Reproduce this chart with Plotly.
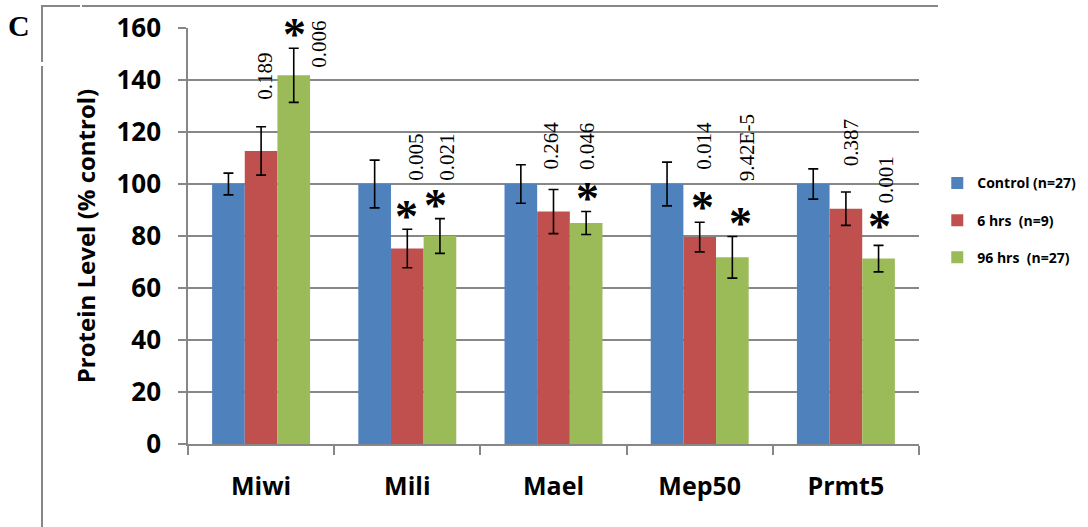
import plotly.graph_objects as go

categories = ["Miwi", "Mili", "Mael", "Mep50", "Prmt5"]
series_names = ["Control (n=27)", "6 hrs  (n=9)", "96 hrs  (n=27)"]
control_vals = [100, 100, 100, 100, 100]
control_err = [4.2, 9.2, 7.4, 8.4, 5.8]
h6_vals = [112.7, 75.2, 89.4, 79.6, 90.5]
h6_err = [9.3, 7.4, 8.5, 5.7, 6.4]
h96_vals = [141.8, 80.0, 85.0, 71.8, 71.3]
h96_err = [10.4, 6.7, 4.4, 8.0, 5.1]
colors = ["#4F81BD", "#C0504D", "#9BBB59"]

# p-value labels: (category, text, y bottom, x pixel shift)
p_labels = [
    ("Miwi", "0.189", 131.5, 3), ("Miwi", "0.006", 143.8, 58),
    ("Mili", "0.005", 100.4, 9), ("Mili", "0.021", 100.4, 40),
    ("Mael", "0.264", 104.6, -2), ("Mael", "0.046", 104.6, 33),
    ("Mep50", "0.014", 104.6, 4), ("Mep50", "9.42E-5", 100.4, 48),
    ("Prmt5", "0.387", 106.2, 5), ("Prmt5", "0.001", 91.9, 40),
]
# significance stars: (category, y centre, x pixel shift)
stars = [
    ("Miwi", 159.4, 33),
    ("Mili", 89.3, -1), ("Mili", 93.6, 28),
    ("Mael", 96.4, 34),
    ("Mep50", 92.8, 3), ("Mep50", 86.8, 41),
    ("Prmt5", 85.5, 34),
]

fig = go.Figure()
for i, (name, vals, errs) in enumerate(zip(series_names, [control_vals, h6_vals, h96_vals],
                                           [control_err, h6_err, h96_err])):
    fig.add_trace(go.Bar(
        x=categories, y=vals, name=name, marker_color=colors[i],
        marker_line_width=0, legendgroup=f"g{i}",
        error_y=dict(type="data", array=errs, color="black", thickness=1.6, width=5),
    ))

anns = []
for cat, txt, yv, xs in p_labels:
    anns.append(dict(x=cat, y=yv, xref="x", yref="y", text=txt, showarrow=False,
                     textangle=-90, xanchor="center", yanchor="bottom", xshift=xs,
                     font=dict(family="Liberation Serif", size=21, color="black")))
for cat, yv, xs in stars:
    anns.append(dict(x=cat, y=yv, xref="x", yref="y", text="*", showarrow=False,
                     xanchor="center", yanchor="middle", xshift=xs, yshift=-5,
                     font=dict(family="Liberation Serif", size=46, color="black", weight="bold")))
anns.append(dict(x=-0.231, y=1.005, xref="paper", yref="paper", text="C", showarrow=False,
                 xanchor="center", yanchor="middle",
                 font=dict(family="Liberation Serif", size=30, color="black", weight="bold")))

shapes = [
    dict(type="line", xref="paper", yref="paper", x0=-0.1997, x1=-0.1997, y0=-0.21, y1=0.9087,
         line=dict(color="#878787", width=2)),
    dict(type="line", xref="paper", yref="paper", x0=-0.1997, x1=-0.1997, y0=0.9183, y1=1.0553,
         line=dict(color="#878787", width=2)),
    dict(type="line", xref="paper", yref="paper", x0=-0.1997, x1=-0.1477, y0=1.0529, y1=1.0529,
         line=dict(color="#878787", width=2)),
    dict(type="line", xref="paper", yref="paper", x0=-0.145, x1=1.026, y0=1.0529, y1=1.0529,
         line=dict(color="#878787", width=2)),
]

fig.update_layout(
    width=1088, height=527,
    margin=dict(l=188, r=169, t=28, b=83, autoexpand=False),
    paper_bgcolor="white", plot_bgcolor="white",
    barmode="group", bargap=0.33, bargroupgap=0,
    font=dict(family="Open Sans", color="black"),
    annotations=anns, shapes=shapes,
    legend=dict(x=1.025, y=0.665, xanchor="left", yanchor="top",
                font=dict(family="Open Sans", size=14, color="black", weight="bold"),
                tracegroupgap=16, itemwidth=30, bgcolor="rgba(0,0,0,0)"),
    showlegend=True,
)
fig.update_yaxes(range=[0, 160], dtick=20, showgrid=True, gridcolor="#878787", gridwidth=1.5,
                 showline=True, linecolor="#878787", linewidth=1.5,
                 ticks="outside", ticklen=8, tickcolor="#878787", tickwidth=1.5,
                 ticklabelstandoff=12,
                 tickfont=dict(family="Open Sans", size=26, color="black", weight="bold"),
                 title=dict(text="Protein Level (% control)", standoff=14,
                            font=dict(family="Open Sans", size=24, color="black", weight="bold")),
                 zeroline=False)
fig.update_xaxes(showline=True, linecolor="#878787", linewidth=1.5,
                 ticks="outside", tickson="boundaries", ticklen=9, tickcolor="#878787", tickwidth=1.5,
                 ticklabelstandoff=19,
                 tickfont=dict(family="Open Sans", size=25, color="black", weight="bold"))

fig.write_html("out.html", config={"displayModeBar": False},
               post_script="document.body.style.margin='0';document.body.style.padding='0';")
